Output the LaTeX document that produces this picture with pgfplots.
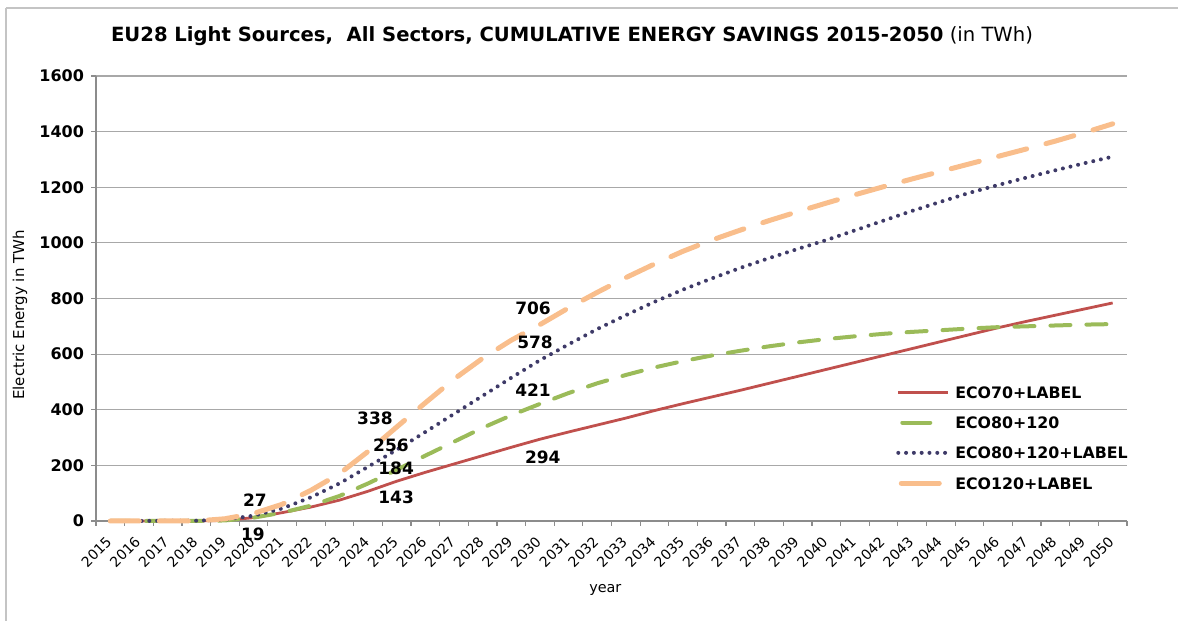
\documentclass[border=0pt]{standalone}
\usepackage{fontspec}
\setmainfont{DejaVu Sans}
\usepackage{pgfplots}
\usepackage{pgfplotstable}
\pgfplotsset{compat=1.18}

\definecolor{ecoRed}{HTML}{C0504D}
\definecolor{ecoGreen}{HTML}{9BBB59}
\definecolor{ecoPurple}{HTML}{3E3A68}
\definecolor{ecoOrange}{HTML}{F9BE8C}
\definecolor{gridGrey}{HTML}{A8A8A8}
\definecolor{axisGrey}{HTML}{8C8C8C}
\definecolor{frameGrey}{HTML}{C4C4C4}

% Cumulative savings in TWh per scenario
\pgfplotstableread{
year eco70 eco80 eco80l eco120
2015 0 0 0 0
2016 0 0 0 0
2017 0 0 1 0
2018 0 0 1 0
2019 2 2 5 8
2020 12 12 19 27
2021 30 30 45 60
2022 50 55 85 110
2023 75 90 135 170
2024 107 135 195 250
2025 143 184 256 338
2026 175 235 320 425
2027 205 285 385 510
2028 235 335 450 585
2029 265 380 515 650
2030 294 421 578 706
2031 320 460 635 766
2032 345 495 690 822
2033 370 525 740 875
2034 397 552 788 924
2035 422 575 832 970
2036 446 595 872 1010
2037 470 612 910 1046
2038 495 628 945 1080
2039 520 642 978 1112
2040 545 654 1010 1143
2041 570 664 1045 1173
2042 595 673 1080 1202
2043 620 680 1115 1230
2044 645 686 1148 1257
2045 670 692 1180 1284
2046 695 697 1208 1311
2047 718 700 1235 1338
2048 740 703 1261 1366
2049 762 706 1286 1396
2050 784 708 1310 1428
}\savings

\begin{document}
\begin{tikzpicture}
% frame of the chart area
\draw[frameGrey, line width=1.4pt] (3pt,0pt) -- (3pt,306.5pt);
\draw[frameGrey, line width=0.6pt] (3pt,306.5pt) -- (589pt,306.5pt);

\begin{axis}[
  at={(48pt,50pt)}, anchor=south west,
  scale only axis, width=515.5pt, height=222.5pt,
  xmin=2014.5, xmax=2050.5, ymin=0, ymax=1600,
  clip=false,
  axis x line*=bottom, axis y line*=left,
  axis line style={axisGrey, line width=0.6pt},
  xtick={2015,...,2050},
  minor xtick={2014.5,2015.5,...,2050.5},
  ytick={0,200,...,1600},
  ymajorgrids,
  major grid style={gridGrey, line width=0.6pt},
  tick align=outside,
  major tick length=2.5pt, minor tick length=2.5pt,
  major x tick style={draw=none},
  minor x tick style={axisGrey, line width=0.6pt},
  major y tick style={axisGrey, line width=0.6pt},
  /pgf/number format/assume math mode=true,
  /pgf/number format/1000 sep={},
  x tick label style={rotate=45, anchor=east, font=\fontsize{7}{8}\selectfont, inner sep=1pt, xshift=-4pt, yshift=-4.2pt},
  y tick label style={font=\bfseries\fontsize{8}{9}\selectfont},
  xlabel={year},
  xlabel style={at={(axis description cs:0.494,-0.155)}, anchor=center, font=\fontsize{7.2}{8}\selectfont},
  ylabel={Electric Energy in TWh},
  ylabel style={at={(axis description cs:-0.0737,0.463)}, anchor=center, font=\fontsize{7.5}{8}\selectfont},
  legend cell align=left,
  legend style={draw=none, fill=none, at={(0.770,0.317)}, anchor=north west,
    font=\bfseries\fontsize{7.9}{8}\selectfont, row sep=7.3pt, column sep=1.5pt,
    nodes={inner sep=1pt, text depth=0pt}},
]
% the curves, kept out of the legend
\addplot[forget plot, ecoRed, line width=1.4pt, line join=round]
  table[x=year, y=eco70] {\savings};
\addplot[forget plot, ecoGreen, line width=2pt, line cap=round, dash pattern=on 10pt off 8pt]
  table[x=year, y=eco80] {\savings};
\addplot[forget plot, ecoPurple, line width=2pt, line cap=round, dash pattern=on 0pt off 3.9pt]
  table[x=year, y=eco80l] {\savings};
\addplot[forget plot, ecoOrange, line width=2.5pt, line cap=round, dash pattern=on 14.5pt off 10pt]
  table[x=year, y=eco120] {\savings};

% legend samples
\addlegendimage{legend image code/.code={\draw[ecoRed, line width=1.4pt] (0pt,0pt) -- (25pt,0pt);}}
\addlegendentry{ECO70+LABEL}
\addlegendimage{legend image code/.code={\draw[ecoGreen, line width=2pt, line cap=round] (2pt,0pt) -- (16pt,0pt);}}
\addlegendentry{ECO80+120}
\addlegendimage{legend image code/.code={\draw[ecoPurple, line width=2pt, line cap=round, dash pattern=on 0pt off 3.9pt] (0pt,0pt) -- (25pt,0pt);}}
\addlegendentry{ECO80+120+LABEL}
\addlegendimage{legend image code/.code={\draw[ecoOrange, line width=2.5pt, line cap=round] (1.5pt,0pt) -- (20.5pt,0pt);}}
\addlegendentry{ECO120+LABEL}

% value labels
\begin{scope}[every node/.style={font=\bfseries\fontsize{8.5}{9}\selectfont}]
\node at (axis cs:2020.05,75) {27};
\node at (axis cs:2019.98,-47) {19};
\node at (axis cs:2024.24,370) {338};
\node at (axis cs:2024.8,273) {256};
\node at (axis cs:2024.98,191) {184};
\node at (axis cs:2024.98,86) {143};
\node at (axis cs:2029.76,766) {706};
\node at (axis cs:2029.83,644) {578};
\node at (axis cs:2029.76,471) {421};
\node at (axis cs:2030.1,230) {294};
\end{scope}
\end{axis}

\node[anchor=center, font=\fontsize{9.8}{11}\selectfont] at (286pt,292.5pt)
  {\textbf{EU28 Light Sources,\ \ All Sectors, CUMULATIVE ENERGY SAVINGS 2015-2050} (in TWh)};

\pgfresetboundingbox
\useasboundingbox (0pt,0pt) rectangle (589pt,310.5pt);
\end{tikzpicture}
\end{document}
